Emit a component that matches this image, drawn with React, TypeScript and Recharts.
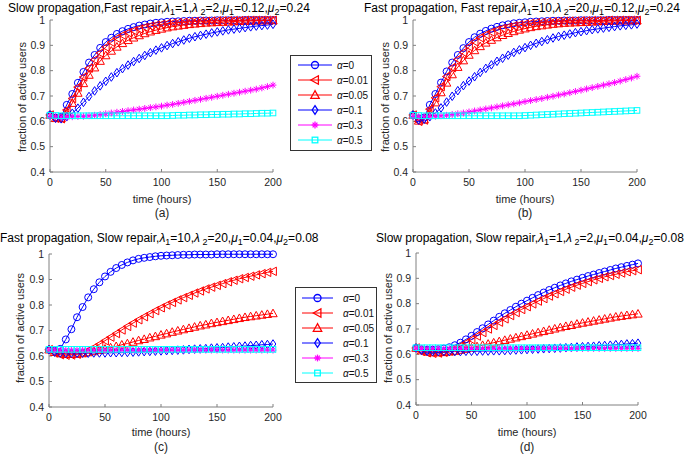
import React from 'react';
import { LineChart, Line, XAxis, YAxis } from 'recharts';

const hours = [0,5,10,15,20,25,30,35,40,45,50,55,60,65,70,75,80,85,90,95,100,105,110,115,120,125,130,135,140,145,150,155,160,165,170,175,180,185,190,195,200];
const xTicks = [0, 50, 100, 150, 200];
const yTicks = [0.4, 0.5, 0.6, 0.7, 0.8, 0.9, 1];
const alphaLabels = ['0', '0.01', '0.05', '0.1', '0.3', '0.5'];

// Panel (a): Slow propagation, Fast repair
const aAlpha0 = [0.625,0.615,0.618,0.665,0.708,0.752,0.795,0.832,0.862,0.89,
  0.913,0.93,0.945,0.956,0.965,0.972,0.978,0.982,0.986,0.989,
  0.991,0.993,0.994,0.995,0.996,0.997,0.997,0.998,0.998,0.998,
  0.999,0.999,0.999,0.999,0.999,1,1,1,1,1,
  1];
const aAlpha001 = [0.625,0.612,0.61,0.645,0.69,0.735,0.775,0.81,0.843,0.87,
  0.893,0.912,0.928,0.94,0.95,0.958,0.965,0.971,0.976,0.98,
  0.983,0.986,0.988,0.99,0.991,0.993,0.994,0.995,0.995,0.996,
  0.997,0.997,0.998,0.998,0.998,0.999,0.999,0.999,0.999,0.999,
  0.999];
const aAlpha005 = [0.625,0.612,0.612,0.635,0.672,0.712,0.75,0.783,0.812,0.838,
  0.86,0.878,0.894,0.908,0.92,0.93,0.939,0.947,0.954,0.96,
  0.965,0.97,0.974,0.977,0.98,0.983,0.985,0.987,0.989,0.99,
  0.991,0.992,0.993,0.994,0.995,0.996,0.996,0.997,0.997,0.998,
  0.998];
const aAlpha01 = [0.625,0.612,0.61,0.618,0.632,0.652,0.675,0.698,0.72,0.74,
  0.758,0.775,0.792,0.808,0.822,0.836,0.848,0.86,0.871,0.881,
  0.89,0.899,0.907,0.914,0.921,0.928,0.934,0.939,0.944,0.949,
  0.953,0.957,0.961,0.964,0.967,0.97,0.973,0.976,0.978,0.98,
  0.983];
const aAlpha03 = [0.62,0.618,0.617,0.617,0.618,0.619,0.62,0.622,0.624,0.627,
  0.63,0.633,0.636,0.639,0.642,0.645,0.648,0.651,0.654,0.657,
  0.66,0.664,0.667,0.671,0.675,0.679,0.683,0.687,0.691,0.695,
  0.699,0.703,0.707,0.711,0.715,0.719,0.723,0.727,0.732,0.737,
  0.743];
const aAlpha05 = [0.624,0.623,0.622,0.622,0.622,0.622,0.622,0.622,0.622,0.622,
  0.622,0.622,0.622,0.622,0.622,0.622,0.622,0.622,0.622,0.622,
  0.622,0.622,0.623,0.624,0.624,0.625,0.625,0.626,0.626,0.627,
  0.627,0.628,0.628,0.629,0.629,0.63,0.63,0.631,0.632,0.632,
  0.633];

// Panel (b): Fast propagation, Fast repair
const bAlpha0 = [0.625,0.612,0.615,0.665,0.708,0.753,0.797,0.832,0.862,0.889,
  0.913,0.932,0.946,0.957,0.966,0.973,0.979,0.983,0.987,0.989,
  0.991,0.993,0.994,0.995,0.996,0.997,0.997,0.998,0.998,0.998,
  0.999,0.999,0.999,0.999,0.999,1,1,1,1,1,
  1];
const bAlpha001 = [0.625,0.6,0.605,0.648,0.693,0.737,0.777,0.812,0.845,0.872,
  0.895,0.914,0.93,0.942,0.952,0.96,0.967,0.972,0.977,0.981,
  0.984,0.987,0.989,0.99,0.992,0.993,0.994,0.995,0.996,0.996,
  0.997,0.997,0.998,0.998,0.998,0.999,0.999,0.999,0.999,0.999,
  0.999];
const bAlpha005 = [0.625,0.602,0.607,0.637,0.674,0.714,0.752,0.785,0.814,0.84,
  0.862,0.88,0.896,0.91,0.921,0.931,0.94,0.948,0.955,0.961,
  0.966,0.971,0.975,0.978,0.981,0.984,0.986,0.988,0.989,0.99,
  0.991,0.992,0.993,0.994,0.995,0.996,0.996,0.997,0.997,0.998,
  0.998];
const bAlpha01 = [0.625,0.605,0.608,0.618,0.633,0.653,0.676,0.699,0.721,0.741,
  0.759,0.776,0.793,0.809,0.823,0.837,0.849,0.861,0.872,0.882,
  0.891,0.9,0.908,0.915,0.922,0.929,0.935,0.94,0.945,0.95,
  0.954,0.958,0.962,0.965,0.968,0.971,0.974,0.977,0.979,0.981,
  0.984];
const bAlpha03 = [0.62,0.618,0.618,0.619,0.62,0.622,0.624,0.627,0.63,0.633,
  0.637,0.641,0.645,0.649,0.653,0.657,0.661,0.665,0.669,0.673,
  0.678,0.682,0.686,0.69,0.695,0.699,0.704,0.708,0.713,0.718,
  0.723,0.728,0.733,0.738,0.743,0.748,0.753,0.759,0.765,0.771,
  0.778];
const bAlpha05 = [0.624,0.623,0.622,0.622,0.622,0.622,0.622,0.622,0.622,0.622,
  0.622,0.622,0.622,0.622,0.622,0.622,0.622,0.622,0.622,0.622,
  0.623,0.624,0.625,0.626,0.627,0.628,0.629,0.63,0.631,0.632,
  0.633,0.634,0.635,0.636,0.637,0.638,0.639,0.64,0.641,0.642,
  0.643];

// Panel (c): Fast propagation, Slow repair
const cAlpha0 = [0.625,0.62,0.628,0.665,0.705,0.752,0.792,0.83,0.862,0.889,
  0.912,0.93,0.945,0.957,0.967,0.975,0.981,0.985,0.988,0.991,
  0.993,0.994,0.995,0.996,0.997,0.997,0.998,0.998,0.998,0.998,
  0.999,0.999,0.999,0.999,0.999,0.999,0.999,0.999,0.999,0.999,
  0.999];
const cAlpha001 = [0.625,0.612,0.605,0.603,0.604,0.607,0.613,0.622,0.633,0.646,
  0.66,0.674,0.688,0.702,0.716,0.729,0.742,0.754,0.766,0.778,
  0.789,0.8,0.81,0.82,0.829,0.838,0.847,0.855,0.863,0.87,
  0.877,0.884,0.891,0.897,0.903,0.908,0.913,0.918,0.923,0.928,
  0.932];
const cAlpha005 = [0.625,0.615,0.61,0.607,0.607,0.608,0.61,0.614,0.618,0.623,
  0.628,0.633,0.638,0.644,0.649,0.655,0.661,0.666,0.672,0.677,
  0.683,0.688,0.694,0.699,0.704,0.709,0.714,0.719,0.723,0.728,
  0.732,0.736,0.74,0.744,0.748,0.752,0.755,0.758,0.761,0.764,
  0.767];
const cAlpha01 = [0.625,0.615,0.612,0.611,0.611,0.611,0.611,0.611,0.612,0.612,
  0.612,0.613,0.613,0.614,0.614,0.615,0.616,0.617,0.618,0.619,
  0.62,0.621,0.622,0.623,0.624,0.626,0.627,0.628,0.629,0.631,
  0.632,0.633,0.635,0.636,0.638,0.639,0.641,0.642,0.644,0.645,
  0.647];
const cAlpha03 = [0.624,0.623,0.623,0.623,0.623,0.623,0.623,0.623,0.623,0.623,
  0.623,0.623,0.623,0.623,0.623,0.623,0.623,0.623,0.623,0.623,
  0.623,0.623,0.623,0.623,0.623,0.623,0.623,0.623,0.623,0.623,
  0.623,0.623,0.623,0.623,0.623,0.623,0.623,0.623,0.623,0.623,
  0.623];
const cAlpha05 = [0.626,0.626,0.626,0.626,0.626,0.626,0.626,0.626,0.626,0.626,
  0.626,0.626,0.626,0.626,0.626,0.626,0.626,0.626,0.626,0.626,
  0.626,0.626,0.626,0.626,0.626,0.626,0.626,0.626,0.626,0.626,
  0.626,0.626,0.626,0.626,0.626,0.626,0.626,0.626,0.626,0.626,
  0.626];

// Panel (d): Slow propagation, Slow repair
const dAlpha0 = [0.625,0.62,0.618,0.618,0.62,0.623,0.628,0.636,0.646,0.659,
  0.673,0.688,0.703,0.718,0.733,0.748,0.762,0.775,0.788,0.8,
  0.812,0.823,0.834,0.844,0.854,0.863,0.872,0.88,0.888,0.895,
  0.902,0.909,0.915,0.921,0.927,0.933,0.939,0.944,0.949,0.954,
  0.959];
const dAlpha001 = [0.625,0.612,0.606,0.604,0.605,0.608,0.614,0.622,0.633,0.645,
  0.658,0.672,0.686,0.7,0.714,0.727,0.74,0.753,0.765,0.777,
  0.788,0.799,0.81,0.82,0.83,0.839,0.848,0.857,0.865,0.873,
  0.88,0.887,0.894,0.9,0.906,0.911,0.916,0.921,0.926,0.93,
  0.934];
const dAlpha005 = [0.625,0.615,0.61,0.607,0.607,0.608,0.61,0.613,0.617,0.621,
  0.626,0.631,0.636,0.641,0.646,0.651,0.656,0.661,0.666,0.671,
  0.676,0.681,0.686,0.691,0.696,0.701,0.706,0.711,0.715,0.72,
  0.724,0.728,0.732,0.736,0.74,0.744,0.748,0.751,0.754,0.757,
  0.76];
const dAlpha01 = [0.625,0.615,0.612,0.611,0.611,0.611,0.611,0.611,0.611,0.612,
  0.612,0.612,0.613,0.613,0.614,0.614,0.615,0.616,0.617,0.618,
  0.619,0.62,0.621,0.622,0.623,0.624,0.625,0.626,0.627,0.629,
  0.63,0.631,0.632,0.634,0.635,0.636,0.638,0.639,0.641,0.642,
  0.644];
const dAlpha03 = [0.624,0.623,0.623,0.623,0.623,0.623,0.623,0.623,0.623,0.623,
  0.623,0.623,0.623,0.623,0.623,0.623,0.623,0.623,0.623,0.623,
  0.623,0.623,0.623,0.623,0.623,0.623,0.623,0.623,0.623,0.623,
  0.623,0.623,0.623,0.623,0.623,0.623,0.623,0.623,0.623,0.623,
  0.623];
const dAlpha05 = [0.626,0.626,0.626,0.626,0.626,0.626,0.626,0.626,0.626,0.626,
  0.626,0.626,0.626,0.626,0.626,0.626,0.626,0.626,0.626,0.626,
  0.626,0.626,0.626,0.626,0.626,0.626,0.626,0.626,0.626,0.626,
  0.626,0.626,0.626,0.626,0.626,0.626,0.626,0.626,0.626,0.626,
  0.626];

const STYLES = [
  { color: '#0000ff', marker: 'circle' },
  { color: '#ff0000', marker: 'left' },
  { color: '#ff0000', marker: 'up' },
  { color: '#0000ff', marker: 'diamond' },
  { color: '#ff00ff', marker: 'star' },
  { color: '#00ffff', marker: 'square' },
];

const FONT = "'Liberation Sans', Arial, Helvetica, sans-serif";
const AX = '#808080';
const TXT = '#262626';

function markerShape(kind: string, color: string, cx: number, cy: number, key: any, sw = 1) {
  const common = { fill: 'none', stroke: color, strokeWidth: sw };
  switch (kind) {
    case 'circle':
      return <circle key={key} cx={cx} cy={cy} r={3.5} {...common} />;
    case 'left':
      return <polygon key={key} points={`${cx - 4.2},${cy} ${cx + 3.4},${cy - 4.2} ${cx + 3.4},${cy + 4.2}`} {...common} />;
    case 'up':
      return <polygon key={key} points={`${cx},${cy - 4.3} ${cx - 4.2},${cy + 3.3} ${cx + 4.2},${cy + 3.3}`} {...common} />;
    case 'diamond':
      return <polygon key={key} points={`${cx},${cy - 4.3} ${cx + 2.8},${cy} ${cx},${cy + 4.3} ${cx - 2.8},${cy}`} {...common} />;
    case 'star':
      return (
        <g key={key} stroke={color} strokeWidth={sw}>
          <line x1={cx - 3.4} y1={cy} x2={cx + 3.4} y2={cy} />
          <line x1={cx} y1={cy - 3.4} x2={cx} y2={cy + 3.4} />
          <line x1={cx - 2.4} y1={cy - 2.4} x2={cx + 2.4} y2={cy + 2.4} />
          <line x1={cx - 2.4} y1={cy + 2.4} x2={cx + 2.4} y2={cy - 2.4} />
        </g>
      );
    default:
      return <rect key={key} x={cx - 2.8} y={cy - 2.8} width={5.6} height={5.6} {...common} />;
  }
}

function dotRenderer(kind: string, color: string) {
  return (p: any) => {
    const { cx, cy, index } = p;
    if (cx == null || cy == null) return <g key={`e${index}`} />;
    return markerShape(kind, color, cx, cy, `m${index}`);
  };
}

function Panel(props: { series: number[][]; x: number; y: number; w: number; h: number; yw: number; mr: number; mt: number; xh: number }) {
  const { series, x, y, w, h, yw, mr, mt, xh } = props;
  const rows = hours.map((t, i) => {
    const r: any = { t };
    series.forEach((s, k) => { r['s' + k] = s[i]; });
    return r;
  });
  return (
    <div style={{ position: 'absolute', left: x, top: y }}>
      <LineChart width={w} height={h} data={rows} margin={{ top: mt, right: mr, bottom: 0, left: 0 }} style={{ overflow: 'visible' }}>
        <XAxis xAxisId="b" dataKey="t" type="number" domain={[0, 200]} ticks={xTicks} interval={0} height={xh}
          tickSize={-3} tickMargin={10} stroke={AX} tick={{ fill: TXT, fontSize: 10.5, fontFamily: FONT }} />
        <XAxis xAxisId="t" orientation="top" dataKey="t" type="number" domain={[0, 200]} ticks={xTicks} interval={0} height={0}
          tickSize={-3} tick={false} stroke={AX} />
        <YAxis yAxisId="l" type="number" domain={[0.4, 1]} ticks={yTicks} interval={0} width={yw}
          tickSize={-3} tickMargin={8} stroke={AX} tick={{ fill: TXT, fontSize: 10.5, fontFamily: FONT }} />
        <YAxis yAxisId="r" orientation="right" type="number" domain={[0.4, 1]} ticks={yTicks} interval={0} width={0}
          tickSize={-3} tick={false} stroke={AX} />
        {series.map((_, k) => (
          <Line key={k} xAxisId="b" yAxisId="l" type="linear" dataKey={'s' + k} stroke={STYLES[k].color} strokeWidth={1}
            dot={dotRenderer(STYLES[k].marker, STYLES[k].color)} activeDot={false} isAnimationActive={false} />
        ))}
      </LineChart>
    </div>
  );
}

function LegendBox(props: { x: number; y: number; w: number; h: number; row0: number; step: number; lx0: number; lx1: number; tx: number }) {
  const { x, y, w, h, row0, step, lx0, lx1, tx } = props;
  const mx = (lx0 + lx1) / 2;
  return (
    <svg style={{ position: 'absolute', left: x, top: y }} width={w} height={h}>
      <rect x={0.5} y={0.5} width={w - 1} height={h - 1} fill="#fff" stroke="#333" strokeWidth={1} />
      {alphaLabels.map((a, i) => {
        const cy = row0 + i * step;
        const st = STYLES[i];
        return (
          <g key={i}>
            <line x1={lx0} y1={cy} x2={lx1} y2={cy} stroke={st.color} strokeWidth={1} />
            {markerShape(st.marker, st.color, mx, cy, 'k' + i, 1.3)}
            <text x={tx} y={cy + 3.5} fontSize={10} fontFamily={FONT} fill="#111">
              <tspan fontStyle="italic">α</tspan>={a}
            </text>
          </g>
        );
      })}
    </svg>
  );
}

const subStyle: React.CSSProperties = { fontSize: 9, verticalAlign: -3, lineHeight: 0 };
const greek: React.CSSProperties = { fontStyle: 'italic' };

function Title(props: { x: number; y: number; head: string; l1: string; l2: string; m1: string; m2: string }) {
  const { x, y, head, l1, l2, m1, m2 } = props;
  return (
    <div style={{ position: 'absolute', left: x, top: y, transform: 'translateY(-50%)', whiteSpace: 'nowrap', fontSize: 12, fontFamily: FONT, color: '#000', lineHeight: '14px' }}>
      {head}<span style={greek}>λ</span><sub style={subStyle}>1</sub>={l1},<span style={greek}>λ</span><sub style={subStyle}>{'\u00a02'}</sub>={l2},<span style={greek}>μ</span><sub style={subStyle}>1</sub>={m1},<span style={greek}>μ</span><sub style={subStyle}>2</sub>={m2}
    </div>
  );
}

function CText(props: { x: number; y: number; text: string; size?: number; rot?: boolean }) {
  const { x, y, text, size = 11, rot } = props;
  return (
    <div style={{ position: 'absolute', left: x, top: y, transform: `translate(-50%,-50%)${rot ? ' rotate(-90deg)' : ''}`, whiteSpace: 'nowrap', fontSize: size, fontFamily: FONT, color: TXT, lineHeight: '13px' }}>
      {text}
    </div>
  );
}

export default function App() {
  return (
    <div style={{ position: 'absolute', left: 0, top: 0, width: 685, height: 456, background: '#fff', overflow: 'hidden' }}>
      <Panel series={[aAlpha0, aAlpha001, aAlpha005, aAlpha01, aAlpha03, aAlpha05]} x={0} y={0} w={290} h={200} yw={50} mr={17} mt={20} xh={28} />
      <Panel series={[bAlpha0, bAlpha001, bAlpha005, bAlpha01, bAlpha03, bAlpha05]} x={363} y={0} w={300} h={200} yw={50} mr={26} mt={20} xh={28} />
      <Panel series={[cAlpha0, cAlpha001, cAlpha005, cAlpha01, cAlpha03, cAlpha05]} x={0} y={234} w={290} h={200} yw={49} mr={17} mt={20} xh={27} />
      <Panel series={[dAlpha0, dAlpha001, dAlpha005, dAlpha01, dAlpha03, dAlpha05]} x={366} y={233} w={300} h={200} yw={50} mr={28} mt={20} xh={28} />

      <Title x={8} y={8} head="Slow propagation,Fast repair," l1="1" l2="2" m1="0.12" m2="0.24" />
      <Title x={364} y={8} head="Fast propagation, Fast repair," l1="10" l2="20" m1="0.12" m2="0.24" />
      <Title x={0} y={238} head="Fast propagation, Slow repair," l1="10" l2="20" m1="0.04" m2="0.08" />
      <Title x={376} y={238} head="Slow propagation, Slow repair," l1="1" l2="2" m1="0.04" m2="0.08" />

      <CText x={22} y={97} text="fraction of active users" rot />
      <CText x={385} y={97} text="fraction of active users" rot />
      <CText x={20} y={328} text="fraction of active users" rot />
      <CText x={388} y={328} text="fraction of active users" rot />

      <CText x={162} y={199} text="time (hours)" />
      <CText x={525} y={199} text="time (hours)" />
      <CText x={161} y={432} text="time (hours)" />
      <CText x={527} y={432} text="time (hours)" />

      <CText x={162} y={213} text="(a)" size={12} />
      <CText x={525} y={213} text="(b)" size={12} />
      <CText x={161} y={447} text="(c)" size={12} />
      <CText x={527} y={447} text="(d)" size={12} />

      <LegendBox x={290} y={55} w={82} h={96} row0={10} step={15} lx0={8} lx1={42} tx={47} />
      <LegendBox x={295} y={287} w={82} h={96} row0={11} step={15} lx0={7} lx1={38} tx={48} />
    </div>
  );
}
